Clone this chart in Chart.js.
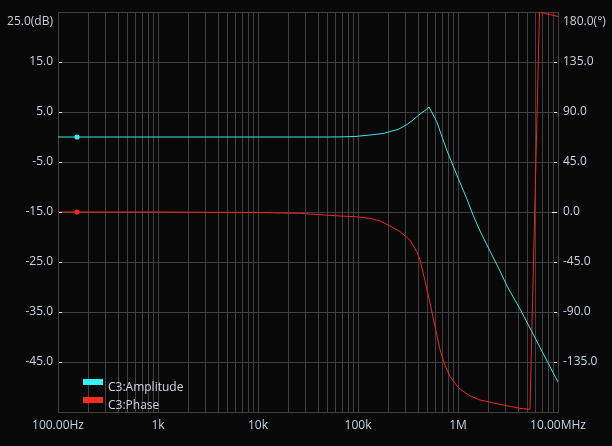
<!DOCTYPE html>
<html><head><meta charset="utf-8">
<script src="https://cdn.jsdelivr.net/npm/chart.js@4.4.1/dist/chart.umd.min.js"></script>
<style>html,body{margin:0;padding:0;background:#080808;overflow:hidden}canvas{display:block}</style>
</head><body>
<canvas id="c" width="612" height="446"></canvas>
<script>
// ---- data ----
const ampFreq = [100, 1000, 10000, 50000, 66000, 93000, 132000, 178000, 209000, 251000, 309000, 355000, 417000, 468000, 513000, 612000, 661000, 771000, 865000, 1007000, 1222000, 1422000, 1660000, 1995000, 2630000, 3090000, 4169000, 5248000, 6607000, 10000000];
const ampDb   = [0, 0, 0, 0, 0.02, 0.1, 0.4, 0.7, 1.1, 1.5, 2.5, 3.4, 4.6, 5.3, 6.0, 3.1, 1.2, -2.6, -5.1, -8.3, -12.3, -15.7, -18.8, -22.0, -26.8, -29.8, -34.4, -38.2, -42.1, -49.0];
const phaseFreq = [100, 1000, 10000, 26000, 66000, 93000, 132000, 166000, 209000, 263000, 331000, 386000, 417000, 468000, 525000, 589000, 661000, 741000, 832000, 1023000, 1318000, 1660000, 2630000, 4169000, 5248000, 6531000, 10000000];
const phaseDeg  = [0, 0, -0.5, -1.2, -3.6, -4.2, -5.7, -8.0, -12.6, -17.7, -25.2, -35.7, -43.0, -62.0, -82.0, -103.0, -124.0, -138.0, -148.0, -158.7, -165.6, -169.2, -173.1, -176.7, -177.5, 179.8, 176.0];
const markerFreq = [155];
const markerDb = [0];
const markerDeg = [0];
const seriesNames = ['C3:Amplitude', 'C3:Phase'];
const xTickValues = [100, 1000, 10000, 100000, 1000000, 10000000];
const xTickLabels = ['100.00Hz', '1k', '10k', '100k', '1M', '10.00MHz'];
const ampMin = -55, ampMax = 25, ampStep = 10;
const phMin = -180, phMax = 180, phStep = 45;

// ---- styles ----
const BG = '#080808';
const GRID = '#404040';
const TXT = '#c9d3df';
const CYAN = '#3de6ee';
const RED = '#f22618';

Chart.defaults.font.family = "'Open Sans', 'Noto Sans', sans-serif";
Chart.defaults.font.size = 12;
Chart.defaults.color = TXT;

const xGrid = [];
for (let e = 2; e < 7; e++) for (let m = 1; m < 10; m++) xGrid.push(m * Math.pow(10, e));
xGrid.push(1e7);

const toXY = (xs, ys) => xs.map((x, i) => ({x: x, y: ys[i]}));

const bgPlugin = {
  id: 'bg',
  beforeDraw(chart) {
    const c = chart.ctx;
    c.save(); c.fillStyle = BG; c.fillRect(0, 0, chart.width, chart.height); c.restore();
  }
};

const extrasPlugin = {
  id: 'extras',
  afterDraw(chart) {
    const c = chart.ctx;
    const a = chart.chartArea;
    c.save();
    // inner tick marks
    c.strokeStyle = '#e6e6e6';
    c.lineWidth = 1;
    const yl = chart.scales.y, yr = chart.scales.y1;
    yl.ticks.forEach(t => {
      if (t.value === ampMin || t.value === ampMax) return;
      const p = Math.round(yl.getPixelForValue(t.value)) + 0.5;
      c.beginPath(); c.moveTo(a.left + 1, p); c.lineTo(a.left + 4, p); c.stroke();
    });
    yr.ticks.forEach(t => {
      if (t.value === phMin || t.value === phMax) return;
      const p = Math.round(yr.getPixelForValue(t.value)) + 0.5;
      const len = t.value === 0 ? 6 : 4;
      c.beginPath(); c.moveTo(a.right - len, p); c.lineTo(a.right - 1, p); c.stroke();
    });
    // legend
    const lx = a.left + 25, ly = a.bottom - 33;
    c.font = "12px 'Open Sans', 'Noto Sans', sans-serif";
    c.textBaseline = 'middle';
    c.textAlign = 'left';
    c.fillStyle = '#30f6f6';
    c.fillRect(lx, ly, 20, 6);
    c.fillStyle = '#ff2a1e';
    c.fillRect(lx, ly + 18, 20, 6);
    c.fillStyle = '#d4d8dc';
    c.fillText(seriesNames[0], lx + 25, ly + 9);
    c.fillText(seriesNames[1], lx + 25, ly + 27);
    c.restore();
  }
};

new Chart(document.getElementById('c'), {
  type: 'line',
  data: {
    datasets: [
      {label: seriesNames[0], data: toXY(ampFreq, ampDb), yAxisID: 'y', borderColor: CYAN, borderWidth: 1, pointRadius: 0, tension: 0},
      {label: seriesNames[1], data: toXY(phaseFreq, phaseDeg), yAxisID: 'y1', borderColor: RED, borderWidth: 1, pointRadius: 0, tension: 0},
      {data: toXY(markerFreq, markerDb), yAxisID: 'y', showLine: false, pointRadius: 2.6, pointBackgroundColor: CYAN, pointBorderWidth: 0},
      {data: toXY(markerFreq, markerDeg), yAxisID: 'y1', showLine: false, pointRadius: 2.6, pointBackgroundColor: RED, pointBorderWidth: 0}
    ]
  },
  options: {
    responsive: false,
    animation: false,
    layout: {padding: {top: 12, left: 0, right: 0, bottom: 0}},
    plugins: {legend: {display: false}, tooltip: {enabled: false}},
    scales: {
      x: {
        type: 'logarithmic', min: 100, max: 1e7,
        grid: {color: GRID, lineWidth: 1, drawTicks: false},
        border: {color: GRID},
        afterBuildTicks(s) { s.ticks = xGrid.map(v => ({value: v})); },
        afterFit(s) { s.height = 34; s.paddingLeft = 0; s.paddingRight = 0; },
        ticks: {
          autoSkip: false, maxRotation: 0, padding: 6, color: TXT,
          callback(v) { const i = xTickValues.indexOf(v); return i >= 0 ? xTickLabels[i] : ''; }
        }
      },
      y: {
        position: 'left', min: ampMin, max: ampMax,
        grid: {color: GRID, lineWidth: 1, drawTicks: false},
        border: {color: GRID},
        afterFit(s) { s.width = 58; s.paddingTop = 0; s.paddingBottom = 0; },
        ticks: {
          stepSize: ampStep, padding: 5, color: TXT, autoSkip: false,
          font: {lineHeight: '20px'},
          callback(v) { if (v === ampMin) return ''; if (v === ampMax) return ['', v.toFixed(1) + '(dB)']; return v.toFixed(1); }
        }
      },
      y1: {
        position: 'right', min: phMin, max: phMax,
        grid: {display: false, drawTicks: false},
        border: {color: GRID},
        afterFit(s) { s.width = 54; s.paddingTop = 0; s.paddingBottom = 0; },
        ticks: {
          stepSize: phStep, padding: 5, color: TXT, autoSkip: false,
          font: {lineHeight: '20px'},
          callback(v) { if (v === phMin) return ''; if (v === phMax) return ['', v.toFixed(1) + '(°)']; return v.toFixed(1); }
        }
      }
    }
  },
  plugins: [bgPlugin, extrasPlugin]
});
</script>
</body></html>
